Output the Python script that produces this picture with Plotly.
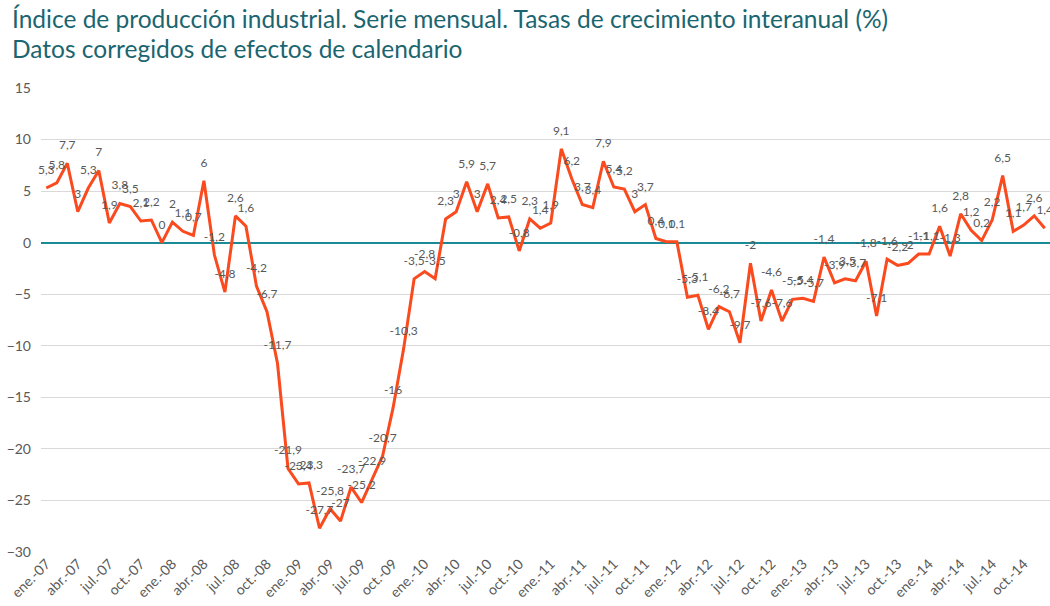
import plotly.graph_objects as go

years = ["07", "08", "09", "10", "11", "12", "13", "14"]
month_abbr = ["ene.", "feb.", "mar.", "abr.", "may.", "jun.", "jul.", "ago.", "sep.", "oct.", "nov.", "dic."]
months = [f"{m}-{y}" for y in years for m in month_abbr]

values = [
    5.3, 5.8, 7.7, 3, 5.3, 7, 1.9, 3.8, 3.5, 2.1, 2.2, 0,
    2, 1.1, 0.7, 6, -1.2, -4.8, 2.6, 1.6, -4.2, -6.7, -11.7, -21.9,
    -23.4, -23.3, -27.7, -25.8, -27, -23.7, -25.2, -22.9, -20.7, -16, -10.3, -3.5,
    -2.8, -3.5, 2.3, 3, 5.9, 3, 5.7, 2.4, 2.5, -0.8, 2.3, 1.4,
    1.9, 9.1, 6.2, 3.7, 3.4, 7.9, 5.4, 5.2, 3, 3.7, 0.4, 0.1,
    0.1, -5.3, -5.1, -8.4, -6.2, -6.7, -9.7, -2, -7.6, -4.6, -7.6, -5.5,
    -5.4, -5.7, -1.4, -3.9, -3.5, -3.7, -1.8, -7.1, -1.6, -2.2, -2, -1.1,
    -1.1, 1.6, -1.3, 2.8, 1.2, 0.2, 2.2, 6.5, 1.1, 1.7, 2.6, 1.4,
]

title_lines = [
    "Índice de producción industrial. Serie mensual. Tasas de crecimiento interanual (%)",
    "Datos corregidos de efectos de calendario",
]

labels = [f"{v:g}".replace(".", ",") for v in values]
xs = list(range(len(months)))
tick_idx = xs[::3]
tick_text = [months[i] for i in tick_idx]
y_ticks = [-30, -25, -20, -15, -10, -5, 0, 5, 10, 15]

fig = go.Figure()
fig.add_trace(go.Scatter(
    x=xs, y=values, mode="lines+markers+text",
    line=dict(color="#FA4A1E", width=3),
    marker=dict(size=16, color="rgba(0,0,0,0)"),
    text=labels, textposition="top center",
    textfont=dict(family="Lato", size=12, color="#595959"),
    cliponaxis=False, hoverinfo="skip", showlegend=False,
))

for i, line in enumerate(title_lines):
    fig.add_annotation(
        text=line, xref="paper", yref="paper",
        x=-31 / 1009, y=1 + (88 - 19 - i * 30) / 464,
        xanchor="left", yanchor="middle", showarrow=False,
        font=dict(family="Lato", size=24.5, color="#1B6570"),
    )

fig.update_layout(
    width=1050, height=606,
    paper_bgcolor="white", plot_bgcolor="white",
    margin=dict(l=41, r=0, t=88, b=54, autoexpand=False),
    xaxis=dict(
        range=[-0.5, 95.5], tickmode="array", tickvals=tick_idx, ticktext=tick_text,
        tickangle=-45, tickfont=dict(family="Lato", size=14, color="#595959"),
        showgrid=False, zeroline=False, showline=False, ticks="", automargin=False,
    ),
    yaxis=dict(
        range=[-30, 15], tickmode="array", tickvals=y_ticks,
        tickfont=dict(family="Lato", size=14, color="#595959"),
        showgrid=True, gridcolor="#D9D9D9", gridwidth=1,
        zeroline=True, zerolinecolor="#1A8A96", zerolinewidth=2,
        showline=False, ticks="", automargin=False, ticklabelstandoff=9,
    ),
)

fig.write_html(
    "out.html",
    config={"displayModeBar": False},
    post_script="document.body.style.margin='0';document.body.style.overflow='hidden';",
)
